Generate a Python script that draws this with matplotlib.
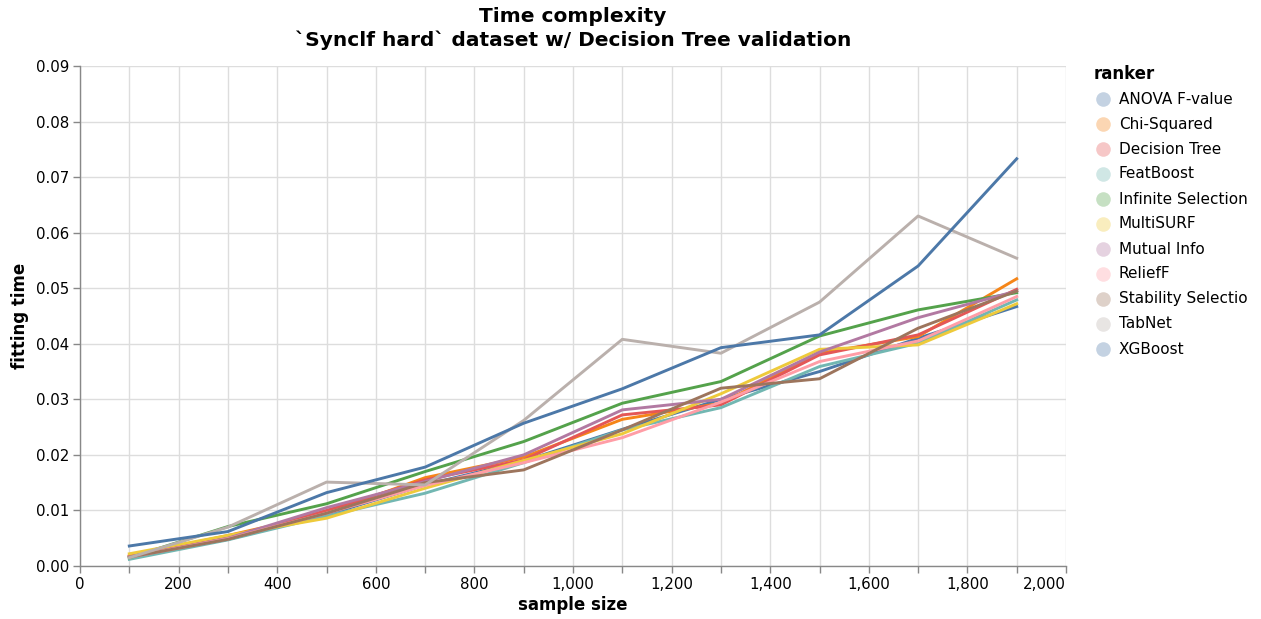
import matplotlib

matplotlib.use("Agg", force=True)
import matplotlib.pyplot as plt
from matplotlib.lines import Line2D
from matplotlib.ticker import FuncFormatter, MultipleLocator

sample_sizes = [100, 300, 500, 700, 900, 1100, 1300, 1500, 1700, 1900]

rankers = [
    "ANOVA F-value", "Chi-Squared", "Decision Tree", "FeatBoost",
    "Infinite Selection", "MultiSURF", "Mutual Info", "ReliefF",
    "Stability Selection", "TabNet", "XGBoost",
]
legend_labels = [
    "ANOVA F-value", "Chi-Squared", "Decision Tree", "FeatBoost",
    "Infinite Selection", "MultiSURF", "Mutual Info", "ReliefF",
    "Stability Selectio", "TabNet", "XGBoost",
]

anova = [0.0016, 0.0048, 0.0092, 0.0146, 0.0189, 0.0246, 0.0300, 0.0350, 0.0410, 0.0467]
chi_squared = [0.0018, 0.0055, 0.0095, 0.0159, 0.0196, 0.0264, 0.0293, 0.0383, 0.0413, 0.0517]
decision_tree = [0.0018, 0.0050, 0.0100, 0.0155, 0.0191, 0.0272, 0.0290, 0.0380, 0.0416, 0.0498]
featboost = [0.0012, 0.0047, 0.0090, 0.0131, 0.0186, 0.0245, 0.0285, 0.0359, 0.0401, 0.0479]
infinite_selection = [0.0015, 0.0071, 0.0112, 0.0170, 0.0224, 0.0293, 0.0332, 0.0414, 0.0461, 0.0492]
multisurf = [0.0022, 0.0055, 0.0086, 0.0140, 0.0190, 0.0238, 0.0310, 0.0390, 0.0398, 0.0472]
mutual_info = [0.0016, 0.0050, 0.0105, 0.0152, 0.0200, 0.0281, 0.0300, 0.0385, 0.0447, 0.0495]
relieff = [0.0016, 0.0049, 0.0095, 0.0145, 0.0186, 0.0231, 0.0295, 0.0368, 0.0405, 0.0485]
stability_selection = [0.0016, 0.0048, 0.0095, 0.0150, 0.0173, 0.0245, 0.0320, 0.0337, 0.0428, 0.0495]
tabnet = [0.0015, 0.0070, 0.0151, 0.0146, 0.0262, 0.0408, 0.0383, 0.0475, 0.0630, 0.0554]
xgboost = [0.0036, 0.0062, 0.0132, 0.0178, 0.0257, 0.0319, 0.0393, 0.0416, 0.0540, 0.0733]

series = [
    anova, chi_squared, decision_tree, featboost, infinite_selection,
    multisurf, mutual_info, relieff, stability_selection, tabnet, xgboost,
]

colors = [
    "#4c78a8", "#f58518", "#e45756", "#72b7b2", "#54a24b", "#eeca3b",
    "#b279a2", "#ff9da6", "#9d755d", "#bab0ac", "#4c78a8",
]

x_ticks = list(range(0, 2001, 100))
# vega drops every other label when they would collide
x_tick_labels = [f"{t:,}" if t % 200 == 0 else "" for t in x_ticks]

W, H = 1261, 619
fig = plt.figure(figsize=(W / 100, H / 100), dpi=100)
ax = fig.add_axes([80 / W, 1 - 566 / H, 986 / W, 500 / H])

for values, color, name in zip(series, colors, rankers):
    ax.plot(sample_sizes, values, color=color, linewidth=2.1, label=name, zorder=3)

ax.set_xlim(0, 2000)
ax.set_ylim(0, 0.09)
ax.set_xticks(x_ticks)
ax.set_xticklabels(x_tick_labels)
ax.get_xticklabels()[-1].set_horizontalalignment("right")
ax.yaxis.set_major_locator(MultipleLocator(0.01))
ax.yaxis.set_major_formatter(FuncFormatter(lambda v, _: f"{v:.2f}"))

ax.grid(True, color="#dddddd", linewidth=1.0, zorder=0)
ax.set_axisbelow(True)
for side in ("top", "right"):
    ax.spines[side].set_visible(False)
for side in ("left", "bottom"):
    ax.spines[side].set_color("#888888")
    ax.spines[side].set_linewidth(1.0)
ax.tick_params(axis="both", colors="#888888", length=5, width=1,
               labelcolor="black", labelsize=10.8, pad=3)

ax.set_xlabel("sample size", fontsize=12, fontweight="bold", labelpad=3)
ax.set_ylabel("fitting time", fontsize=12, fontweight="bold", labelpad=5)

fig.text(573 / W, 1 - 16 / H, "Time complexity", ha="center", va="center",
         fontsize=14.5, fontweight="bold")
fig.text(573 / W, 1 - 40 / H, "`Synclf hard` dataset w/ Decision Tree validation",
         ha="center", va="center", fontsize=14.5, fontweight="bold")

# legend drawn by hand: faded circles, as vega-lite does
fig.text(1094 / W, 1 - 74 / H, "ranker", ha="left", va="center",
         fontsize=12, fontweight="bold")
for i, (label, color) in enumerate(zip(legend_labels, colors)):
    y = 1 - (99 + 25 * i) / H
    fig.add_artist(Line2D([1103 / W], [y], transform=fig.transFigure, marker="o",
                          linestyle="", markersize=10.5, markeredgewidth=0,
                          markerfacecolor=color, alpha=0.33))
    fig.text(1119 / W, y, label, ha="left", va="center", fontsize=11)

fig.savefig("out.png", dpi=100)
